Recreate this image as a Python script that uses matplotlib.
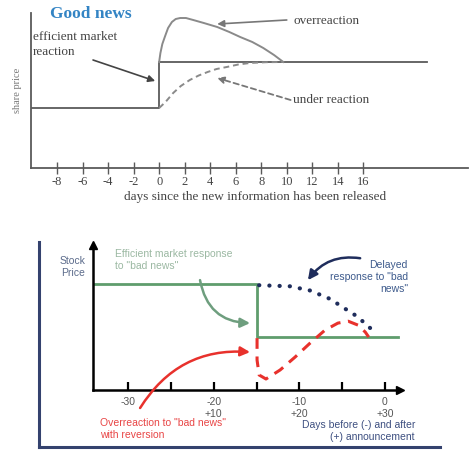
import matplotlib
matplotlib.use("Agg")
import matplotlib.pyplot as plt

plt.rcParams["axes.unicode_minus"] = False

# ----- Top panel data: "Good news" (days since release, share price) -----
top_ticks = list(range(-8, 17, 2))
efficient_x = [-10, 0, 0, 21]
efficient_y = [6.0, 6.0, 10.6, 10.6]
over_x = [0, 0.1, 0.25, 0.47, 0.7, 1.0, 1.3, 1.65, 2.1, 2.67, 3.5, 4.55, 5.5, 6.35, 7.3, 8.16, 9.0, 9.73]
over_y = [10.6, 11.5, 12.4, 13.2, 14.0, 14.6, 14.9, 15.0, 15.0, 14.8, 14.5, 14.1, 13.6, 13.1, 12.6, 12.0, 11.3, 10.6]
under_x = [0, 0.5, 1.1, 1.7, 2.4, 3.1, 3.8, 4.5, 5.3, 6.2, 7.1, 8.4, 9.7]
under_y = [6.0, 6.6, 7.5, 8.2, 8.8, 9.25, 9.6, 9.9, 10.1, 10.35, 10.5, 10.58, 10.6]

# ----- Bottom panel data: "bad news" (days, stock price) -----
bot_ticks = [-30, -25, -20, -15, -10, -5, 0]
bot_ticklabels = ["-30", "", "-20\n+10", "", "-10\n+20", "", "0\n+30"]
green_x = [-34.1, -15, -15, 1.5]
green_y = [10.0, 10.0, 5.0, 5.0]
delayed_x = [-14.7, -11.1, -8.75, -6.4, -4.7, -3.15, -2.1, -1.5]
delayed_y = [9.9, 9.8, 9.4, 8.6, 7.7, 6.9, 6.1, 5.7]
over_bad_x = [-14.94, -14.94, -14.7, -13.9, -12.25, -10.5, -8.75, -7.0, -5.5, -4.3, -3.15, -2.3, -1.9]
over_bad_y = [4.9, 2.83, 1.42, 1.04, 1.89, 3.11, 4.43, 5.66, 6.32, 6.5, 6.13, 5.47, 5.0]

SERIF = "Liberation Serif"
SANS = "Liberation Sans"
GRAY = "#5a5a5a"
GREEN = "#5f9d6d"
NAVY = "#1f2d5c"
RED = "#e8312c"

W, H = 469, 450
fig = plt.figure(figsize=(W / 100, H / 100), dpi=100)


def frac(left, top, right, bottom):
    """pixel box -> figure fraction rect"""
    return [left / W, 1 - bottom / H, (right - left) / W, (bottom - top) / H]


# =============================================================================
# Top panel
# =============================================================================
ax = fig.add_axes(frac(31, 13, 468, 168))
ax.set_xlim(-10.04, 24.2)
ax.set_ylim(0, 15.5)
for s in ["top", "right"]:
    ax.spines[s].set_visible(False)
for s in ["left", "bottom"]:
    ax.spines[s].set_color(GRAY)
    ax.spines[s].set_linewidth(1.3)
ax.set_yticks([])
ax.set_xticks(top_ticks)
ax.tick_params(axis="x", direction="inout", length=8, width=1, color=GRAY,
               labelsize=9, labelcolor="#444444", pad=2)
for lbl in ax.get_xticklabels():
    lbl.set_fontfamily(SERIF)

ax.plot(efficient_x, efficient_y, color=GRAY, lw=1.3)
ax.plot(over_x, over_y, color="#8a8a8a", lw=1.4)
ax.plot(under_x, under_y, color="#8a8a8a", lw=1.4, ls=(0, (3, 2)))

ax.set_xlabel("days since the new information has been released",
              fontfamily=SERIF, fontsize=9.5, color="#444444")
ax.xaxis.set_label_coords(0.513, -0.187)
ax.xaxis.label.set_va("center")
ax.set_ylabel("share price", fontfamily=SERIF, fontsize=7.5, color="#777777")
ax.yaxis.set_label_coords(-0.032, 0.5)
ax.yaxis.label.set_va("center")

ax.text(-8.55, 15.4, "Good news", fontfamily=SERIF, fontsize=12.5,
        fontweight="bold", color="#3384c4", va="center", ha="left")
ax.text(-9.88, 13.75, "efficient market\nreaction", fontfamily=SERIF,
        fontsize=9.5, color="#444444", va="top", ha="left", linespacing=1.4)
ax.text(10.5, 14.7, "overreaction", fontfamily=SERIF, fontsize=9.5,
        color="#444444", va="center", ha="left")
ax.text(10.5, 6.8, "under reaction", fontfamily=SERIF, fontsize=9.5,
        color="#444444", va="center", ha="left")

ax.annotate("", xy=(-0.31, 8.7), xytext=(-5.18, 10.8),
            arrowprops=dict(arrowstyle="-|>", color="#444444", lw=1.2,
                            mutation_scale=10, shrinkA=0, shrinkB=0))
ax.annotate("", xy=(4.55, 14.4), xytext=(10.0, 14.8),
            arrowprops=dict(arrowstyle="-|>", color="#777777", lw=1.2,
                            mutation_scale=10, shrinkA=0, shrinkB=0))
ax.annotate("", xy=(4.55, 9.0), xytext=(10.3, 6.8),
            arrowprops=dict(arrowstyle="-|>", color="#777777", lw=1.3,
                            linestyle=(0, (3, 2)), mutation_scale=10,
                            shrinkA=0, shrinkB=0))

# =============================================================================
# Bottom panel: outer frame
# =============================================================================
frame = fig.add_axes(frac(39, 242, 440, 447))
frame.set_xticks([])
frame.set_yticks([])
frame.patch.set_visible(False)
for s in ["top", "right"]:
    frame.spines[s].set_visible(False)
for s in ["left", "bottom"]:
    frame.spines[s].set_color("#34426e")
    frame.spines[s].set_linewidth(2.2)

# inner chart
bx = fig.add_axes(frac(93, 245, 400.4, 390))
bx.patch.set_visible(False)
bx.set_xlim(-34.1, 1.8)
bx.set_ylim(0, 13.7)
for s in ["top", "right"]:
    bx.spines[s].set_visible(False)
for s in ["left", "bottom"]:
    bx.spines[s].set_color("black")
    bx.spines[s].set_linewidth(1.8)
bx.set_yticks([])
bx.set_xticks(bot_ticks)
bx.set_xticklabels(bot_ticklabels)
bx.tick_params(axis="x", direction="in", length=6, width=1.6, color="black",
               labelsize=7.5, labelcolor="#555555", pad=5)
for lbl in bx.get_xticklabels():
    lbl.set_fontfamily(SANS)
    lbl.set_linespacing(1.3)

# axis arrowheads
bx.plot(1, 0, ">", color="black", ms=6, transform=bx.transAxes, clip_on=False)
bx.plot(0, 1, "^", color="black", ms=6, transform=bx.transAxes, clip_on=False)

bx.plot(green_x, green_y, color=GREEN, lw=2)
bx.plot(delayed_x, delayed_y, color=NAVY, lw=3, ls=(0, (0.05, 2.4)),
        dash_capstyle="round")
bx.plot(over_bad_x, over_bad_y, color=RED, lw=2.2, ls=(0, (3.5, 2.5)))

txt = dict(fontfamily=SANS, fontsize=7.5, va="center", linespacing=1.25)
bx.text(-35.0, 11.65, "Stock\nPrice", ha="right", multialignment="right",
        color="#5b6b8b", **txt)
bx.text(-31.5, 12.26, "Efficient market response\nto \"bad news\"", ha="left",
        color="#9bb8a2", **txt)
bx.text(2.68, 10.7, "Delayed\nresponse to \"bad\nnews\"", ha="right",
        multialignment="right", color="#3d5a8c", **txt)
bx.text(-33.3, -3.68, "Overreaction to \"bad news\"\nwith reversion", ha="left",
        color="#e84545", **txt)
bx.text(3.5, -3.9, "Days before (-) and after\n(+) announcement", ha="right",
        multialignment="right", color="#3d4f80", **txt)

bx.annotate("", xy=(-15.76, 6.32), xytext=(-21.6, 10.38),
            arrowprops=dict(arrowstyle="-|>", color="#6e9e7e", lw=1.8,
                            mutation_scale=14, shrinkA=0, shrinkB=0,
                            connectionstyle="arc3,rad=0.4"), annotation_clip=False)
bx.annotate("", xy=(-15.76, 3.58), xytext=(-28.6, -1.7),
            arrowprops=dict(arrowstyle="-|>", color=RED, lw=1.8,
                            mutation_scale=14, shrinkA=0, shrinkB=0,
                            connectionstyle="arc3,rad=-0.3"), annotation_clip=False)
bx.annotate("", xy=(-9.0, 10.38), xytext=(-2.9, 12.45),
            arrowprops=dict(arrowstyle="-|>", color=NAVY, lw=1.8,
                            mutation_scale=14, shrinkA=0, shrinkB=0,
                            connectionstyle="arc3,rad=0.3"), annotation_clip=False)

plt.savefig("out.png", dpi=100)
print("Saved out.png")
